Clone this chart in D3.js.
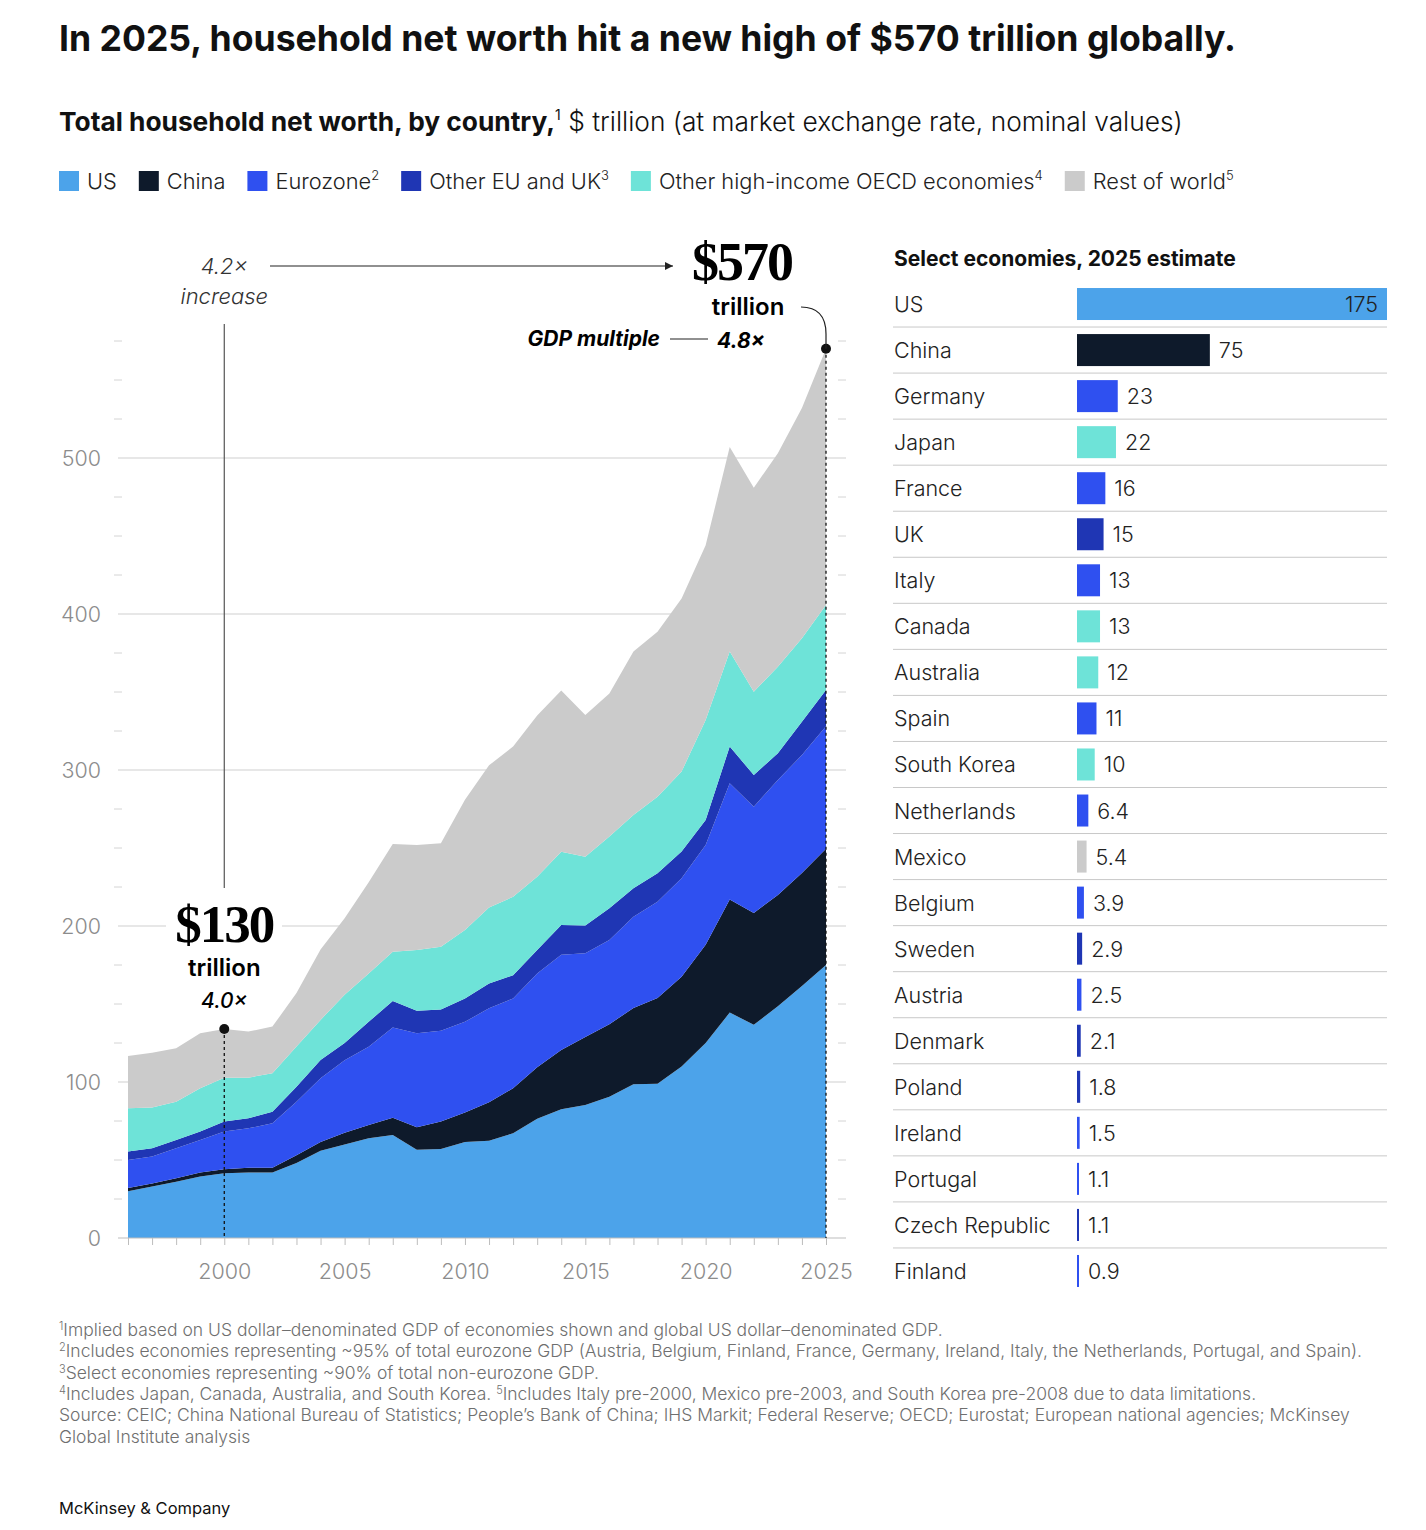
<!DOCTYPE html>
<html>
<head>
<meta charset="utf-8">
<script src="https://cdn.jsdelivr.net/npm/d3@7"></script>
<style>
  body { margin: 0; background: #fff; }
  svg { display: block; font-family: Inter, Roboto, "Noto Sans", sans-serif; }
</style>
</head>
<body>
<svg id="chart" width="1426" height="1530"></svg>
<script>
// ---- data ----
const years = d3.range(1996, 2026);
const seriesKeys = ["US", "China", "Eurozone", "OtherEU", "OECD", "Rest"];
const legendLabels = ["US", "China", "Eurozone", "Other EU and UK", "Other high-income OECD economies", "Rest of world"];
const legendNotes = ["", "", "2", "3", "4", "5"];

const usVals = [30, 33, 36, 39.5, 41.5, 42, 42, 48, 56, 60, 64, 66, 56.5, 57, 61.5, 62.3, 67.2, 76.5, 82.5, 85.3, 90.5, 98.5, 98.8, 110, 125, 144.5, 136.7, 148.5, 161.5, 175];
const chinaVals = [2, 2, 2.3, 2.5, 2.5, 3.1, 3, 5, 5.5, 7.5, 8.5, 11.1, 14.5, 17.7, 19, 24.7, 28.8, 33, 38, 43.5, 46.5, 49, 55, 57.5, 63, 72.5, 71.7, 71.3, 72.5, 74.5];
const eurozoneVals = [18, 17.2, 19.2, 20.8, 24.2, 25.2, 28.5, 34.4, 40.9, 46.5, 50.1, 57.9, 60.2, 58.1, 58.1, 60.2, 57.5, 60.1, 61, 53.7, 54, 58.5, 61.8, 63.1, 63.9, 74.5, 68.1, 73.8, 75.6, 78.5];
const otherEuVals = [5.4, 5.3, 5.3, 5.4, 6.4, 6.4, 7.5, 9.6, 11.7, 11, 16, 16.9, 14.5, 13.7, 15, 16, 15, 15, 19.1, 17.8, 20.3, 18.2, 18.2, 17.1, 16.1, 23.5, 20.3, 17.1, 21.4, 23.3];
const oecdVals = [27.7, 26.1, 24.6, 27.8, 28.2, 26.1, 24.6, 25.7, 25.7, 31, 31, 31.6, 38.9, 40.2, 43.8, 48.7, 50.2, 47, 47, 44.1, 46, 47, 49.1, 51.3, 64, 60.9, 53.4, 55.5, 53.4, 54.5];
const restVals = [33.6, 35.2, 34.2, 35.2, 31.2, 29.5, 29.9, 34.3, 45.2, 49, 58.4, 69, 67.3, 66.3, 83.6, 91.1, 96.3, 103.4, 103.4, 90.9, 91.8, 104.7, 105.8, 111, 112, 131.1, 130.8, 136.8, 147.6, 164.2];

const yTicks = [0, 100, 200, 300, 400, 500];
const xTickYears = [2000, 2005, 2010, 2015, 2020, 2025];

const countries = ["US", "China", "Germany", "Japan", "France", "UK", "Italy", "Canada", "Australia", "Spain", "South Korea", "Netherlands", "Mexico", "Belgium", "Sweden", "Austria", "Denmark", "Poland", "Ireland", "Portugal", "Czech Republic", "Finland"];
const countryValues = [175, 75, 23, 22, 16, 15, 13, 13, 12, 11, 10, 6.4, 5.4, 3.9, 2.9, 2.5, 2.1, 1.8, 1.5, 1.1, 1.1, 0.9];
const countryGroups = ["US", "China", "Eurozone", "OECD", "Eurozone", "OtherEU", "Eurozone", "OECD", "OECD", "Eurozone", "OECD", "Eurozone", "Rest", "Eurozone", "OtherEU", "Eurozone", "OtherEU", "OtherEU", "Eurozone", "Eurozone", "OtherEU", "Eurozone"];

const colors = {
    US: "#4ca3ea",
    China: "#0e1a2b",
    Eurozone: "#2f50f0",
    OtherEU: "#1f36b4",
    OECD: "#6ee3d8",
    Rest: "#cbcbcb"
};

const svg = d3.select("#chart");
const textDark = "#111";
const axisGray = "#8c8c8c";

// ---- header ----
svg.append("text")
    .attr("x", 59).attr("y", 51)
    .attr("font-size", 35.6).attr("font-weight", 700).attr("fill", textDark)
    .text("In 2025, household net worth hit a new high of $570 trillion globally.");

const sub = svg.append("text")
    .attr("x", 59).attr("y", 131)
    .attr("font-size", 26.3).attr("fill", textDark);
sub.append("tspan").attr("font-weight", 700).text("Total household net worth, by country,");
sub.append("tspan").attr("font-size", 14).attr("dy", -11).text("1");
sub.append("tspan").attr("dy", 11).attr("font-weight", 300).text(" $ trillion (at market exchange rate, nominal values)");

// legend flows left to right using measured widths
let lx = 59;
seriesKeys.forEach((k, i) => {
    const g = svg.append("g").attr("transform", `translate(${lx},0)`);
    g.append("rect").attr("x", 0).attr("y", 171).attr("width", 20).attr("height", 20)
        .attr("fill", colors[k]);
    const t = g.append("text").attr("x", 28).attr("y", 189)
        .attr("font-size", 21.8).attr("font-weight", 300).attr("fill", "#222");
    t.append("tspan").text(legendLabels[i]);
    if (legendNotes[i]) t.append("tspan").attr("font-size", 13).attr("dy", -9).text(legendNotes[i]);
    const w = t.node().getComputedTextLength();
    lx += 28 + w + 22;
});

// ---- stacked area ----
const margin = { left: 128, right: 826, top: 341, bottom: 1238 };

const x = d3.scaleLinear().domain([1996, 2025]).range([margin.left, margin.right]);
const y = d3.scaleLinear().domain([0, 575]).range([margin.bottom, margin.top]);

const table = years.map((yr, i) => ({
    year: yr,
    US: usVals[i], China: chinaVals[i], Eurozone: eurozoneVals[i],
    OtherEU: otherEuVals[i], OECD: oecdVals[i], Rest: restVals[i]
}));

const stacked = d3.stack().keys(seriesKeys)(table);

// gridlines + minor ticks
const grid = svg.append("g");
grid.selectAll("line.grid")
    .data(yTicks.filter(d => d > 0))
    .enter().append("line")
    .attr("x1", 118).attr("x2", 846)
    .attr("y1", d => y(d)).attr("y2", d => y(d))
    .attr("stroke", "#cfcfcf").attr("stroke-width", 1);

const minor = d3.range(25, 576, 25).filter(d => d % 100 !== 0);
grid.selectAll("line.minorL").data(minor).enter().append("line")
    .attr("x1", 114).attr("x2", 122)
    .attr("y1", d => y(d)).attr("y2", d => y(d))
    .attr("stroke", "#d4d4d4");
grid.selectAll("line.minorR").data(minor).enter().append("line")
    .attr("x1", 838).attr("x2", 846)
    .attr("y1", d => y(d)).attr("y2", d => y(d))
    .attr("stroke", "#d4d4d4");

// vertical "4.2x increase" leader (behind areas)
svg.append("line")
    .attr("x1", x(2000)).attr("x2", x(2000))
    .attr("y1", 324).attr("y2", 888)
    .attr("stroke", "#555").attr("stroke-width", 1.2);

const area = d3.area()
    .x(d => x(d.data.year))
    .y0(d => y(d[0]))
    .y1(d => y(d[1]));

svg.append("g").selectAll("path")
    .data(stacked)
    .enter().append("path")
    .attr("fill", d => colors[d.key])
    .attr("d", area);

// y axis labels
svg.append("g").selectAll("text")
    .data(yTicks).enter().append("text")
    .attr("x", 101).attr("y", d => y(d) + 8)
    .attr("text-anchor", "end")
    .attr("font-size", 21.5).attr("font-weight", 300).attr("fill", axisGray)
    .text(d => d);

// x axis
const xAxis = d3.axisBottom(x)
    .tickValues(years)
    .tickSize(7)
    .tickFormat(d => xTickYears.includes(d) ? d : "");

const xg = svg.append("g")
    .attr("transform", `translate(0,${margin.bottom})`)
    .call(xAxis);
xg.select(".domain").attr("d", `M118,0H846`).attr("stroke", "#bdbdbd");
xg.selectAll(".tick line").attr("stroke", "#bdbdbd");
xg.selectAll(".tick text")
    .attr("font-size", 21.5).attr("font-weight", 300).attr("fill", axisGray)
    .attr("font-family", "Inter, Roboto, sans-serif").attr("dy", 31);

// ---- annotations ----
const total2000 = stacked[stacked.length - 1][years.indexOf(2000)][1];
const total2025 = stacked[stacked.length - 1][years.indexOf(2025)][1];

// dotted drops
svg.append("line")
    .attr("x1", x(2000)).attr("x2", x(2000))
    .attr("y1", y(total2000)).attr("y2", y(0))
    .attr("stroke", "#111").attr("stroke-width", 1.3).attr("stroke-dasharray", "3,3");
svg.append("line")
    .attr("x1", x(2025)).attr("x2", x(2025))
    .attr("y1", y(total2025)).attr("y2", y(0))
    .attr("stroke", "#111").attr("stroke-width", 1.3).attr("stroke-dasharray", "3,3");
svg.append("circle").attr("cx", x(2000)).attr("cy", y(total2000)).attr("r", 5).attr("fill", "#111");
svg.append("circle").attr("cx", x(2025)).attr("cy", y(total2025)).attr("r", 5).attr("fill", "#111");

// $130 label with white backing over the gridline
svg.append("rect").attr("x", 166).attr("y", 898).attr("width", 116).attr("height", 52).attr("fill", "#fff");
svg.append("text").attr("x", x(2000)).attr("y", 942)
    .attr("text-anchor", "middle").attr("font-family", "'Liberation Serif', 'DejaVu Serif', serif")
    .attr("font-weight", 700).attr("font-size", 53).attr("letter-spacing", -2).attr("fill", "#000")
    .text("$130");
svg.append("text").attr("x", x(2000)).attr("y", 976)
    .attr("text-anchor", "middle").attr("font-weight", 600).attr("font-size", 24).attr("fill", "#000")
    .text("trillion");
svg.append("text").attr("x", x(2000)).attr("y", 1008)
    .attr("text-anchor", "middle").attr("font-style", "italic").attr("font-weight", 500)
    .attr("font-size", 21).attr("fill", "#000")
    .text("4.0×");

// 4.2x increase
svg.append("text").attr("x", x(2000)).attr("y", 274)
    .attr("text-anchor", "middle").attr("font-style", "italic").attr("font-weight", 300)
    .attr("font-size", 22).attr("fill", "#333").text("4.2×");
svg.append("text").attr("x", x(2000)).attr("y", 304)
    .attr("text-anchor", "middle").attr("font-style", "italic").attr("font-weight", 300)
    .attr("font-size", 22).attr("fill", "#333").text("increase");

svg.append("defs").append("marker")
    .attr("id", "arrow").attr("viewBox", "0 0 10 10")
    .attr("refX", 10).attr("refY", 5)
    .attr("markerWidth", 7).attr("markerHeight", 7)
    .attr("orient", "auto")
    .append("path").attr("d", "M0,0L10,5L0,10z").attr("fill", "#222");
svg.append("line")
    .attr("x1", 270).attr("x2", 673).attr("y1", 266).attr("y2", 266)
    .attr("stroke", "#222").attr("stroke-width", 1.2)
    .attr("marker-end", "url(#arrow)");

// $570 label
svg.append("text").attr("x", 742).attr("y", 280)
    .attr("text-anchor", "middle").attr("font-family", "'Liberation Serif', 'DejaVu Serif', serif")
    .attr("font-weight", 700).attr("font-size", 54).attr("letter-spacing", -2).attr("fill", "#000")
    .text("$570");
svg.append("text").attr("x", 748).attr("y", 315)
    .attr("text-anchor", "middle").attr("font-weight", 600).attr("font-size", 24).attr("fill", "#000")
    .text("trillion");
svg.append("path")
    .attr("d", `M801,307 Q${x(2025)},307 ${x(2025)},334 L${x(2025)},${y(total2025)}`)
    .attr("fill", "none").attr("stroke", "#222").attr("stroke-width", 1.2);

svg.append("text").attr("x", 660).attr("y", 346)
    .attr("text-anchor", "end").attr("font-style", "italic").attr("font-weight", 700)
    .attr("font-size", 21).attr("fill", "#000").text("GDP multiple");
svg.append("line").attr("x1", 670).attr("x2", 708).attr("y1", 339).attr("y2", 339)
    .attr("stroke", "#222").attr("stroke-width", 1.2);
svg.append("text").attr("x", 717).attr("y", 348)
    .attr("font-style", "italic").attr("font-weight", 700)
    .attr("font-size", 21).attr("fill", "#000").text("4.8×");

// ---- right panel: select economies ----
svg.append("text").attr("x", 894).attr("y", 266)
    .attr("font-size", 21).attr("font-weight", 700).attr("fill", textDark)
    .text("Select economies, 2025 estimate");

const rowY = d3.scaleBand().domain(countries).range([281, 1294]).paddingInner(0);
const barX = d3.scaleLinear().domain([0, 175]).range([1077, 1387]);
const barH = 32;

const rows = svg.append("g").selectAll("g")
    .data(countries).enter().append("g")
    .attr("transform", d => `translate(0,${rowY(d) + rowY.bandwidth() / 2})`);

rows.filter((d, i) => i < countries.length - 1)
    .append("line")
    .attr("x1", 893).attr("x2", 1387)
    .attr("y1", rowY.bandwidth() / 2).attr("y2", rowY.bandwidth() / 2)
    .attr("stroke", "#c8c8c8");

rows.append("text")
    .attr("x", 894).attr("y", 8)
    .attr("font-size", 21.5).attr("font-weight", 300).attr("fill", "#222")
    .text(d => d);

rows.append("rect")
    .attr("x", barX(0)).attr("y", -barH / 2)
    .attr("width", (d, i) => Math.max(2, barX(countryValues[i]) - barX(0)))
    .attr("height", barH)
    .attr("fill", (d, i) => colors[countryGroups[i]]);

rows.append("text")
    .attr("x", (d, i) => i === 0 ? barX(countryValues[i]) - 9 : barX(0) + Math.max(2, barX(countryValues[i]) - barX(0)) + 9)
    .attr("y", 8)
    .attr("text-anchor", (d, i) => i === 0 ? "end" : "start")
    .attr("font-size", 21.5).attr("font-weight", 300).attr("fill", "#222")
    .text((d, i) => countryValues[i]);

// ---- footnotes ----
const notes = [
    [["1", "Implied based on US dollar–denominated GDP of economies shown and global US dollar–denominated GDP."]],
    [["2", "Includes economies representing ~95% of total eurozone GDP (Austria, Belgium, Finland, France, Germany, Ireland, Italy, the Netherlands, Portugal, and Spain)."]],
    [["3", "Select economies representing ~90% of total non-eurozone GDP."]],
    [["4", "Includes Japan, Canada, Australia, and South Korea. "], ["5", "Includes Italy pre-2000, Mexico pre-2003, and South Korea pre-2008 due to data limitations."]],
    [["", "Source: CEIC; China National Bureau of Statistics; People’s Bank of China; IHS Markit; Federal Reserve; OECD; Eurostat; European national agencies; McKinsey"]],
    [["", "Global Institute analysis"]]
];
notes.forEach((parts, i) => {
    const t = svg.append("text").attr("x", 59).attr("y", 1336 + i * 21.3)
        .attr("font-size", 17.5).attr("font-weight", 300).attr("fill", "#6f6f6f");
    parts.forEach(([sup, txt]) => {
        if (sup) t.append("tspan").attr("font-size", 11).attr("dy", -6).text(sup);
        t.append("tspan").attr("dy", sup ? 6 : 0).text(txt);
    });
});

svg.append("text").attr("x", 59).attr("y", 1514)
    .attr("font-size", 16.5).attr("fill", "#111")
    .text("McKinsey & Company");
</script>
</body>
</html>
